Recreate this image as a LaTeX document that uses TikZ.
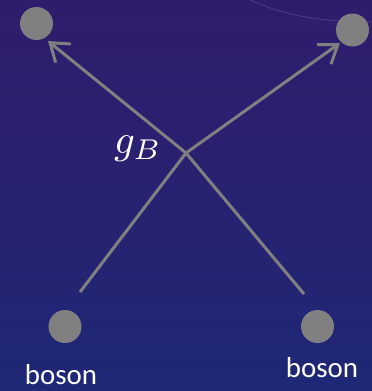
\documentclass[tikz,border=0pt]{standalone}
\usepackage{fontspec}
\setsansfont{Carlito}
\usetikzlibrary{arrows.meta}
\definecolor{bgtop}{RGB}{48,28,108}
\definecolor{bgbot}{RGB}{30,40,118}
\definecolor{pgray}{RGB}{128,128,128}
\tikzset{
  particle/.style={circle, fill=pgray, minimum size=33bp, inner sep=0pt},
  leg/.style={draw=pgray, line width=3bp},
  arr/.style={-{Straight Barb[length=17bp,width=24bp,line width=3bp]}},
  lbl/.style={text=white, font=\sffamily\fontsize{29}{32}\selectfont, anchor=base, inner sep=0pt}
}
\begin{document}
\begin{tikzpicture}[x=1bp,y=-1bp]
\useasboundingbox (0,0) rectangle (372,391);
\shade[top color=bgtop, bottom color=bgbot] (0,0) rectangle (372,391);
\draw[white!30!bgtop, opacity=0.5, line width=0.8bp] (250,0) .. controls (290,18) and (330,22) .. (372,22);
\node[particle] (tl) at (36.5,23.5) {};
\node[particle] (tr) at (352.5,30) {};
\node[particle] (bl) at (65,326.5) {};
\node[particle] (br) at (317.5,326.5) {};
\coordinate (v) at (186,153);
\coordinate (blend) at (80,292);
\coordinate (brend) at (304,294);
\coordinate (tlend) at (48,41);
\coordinate (trend) at (340,43);
\draw[leg] (blend) -- (v);
\draw[leg] (brend) -- (v);
\draw[leg, arr] (v) -- (tlend);
\draw[leg, arr] (v) -- (trend);
\node[text=white, anchor=base west, inner sep=0pt] (g) at (114,153) {\scalebox{4.1}{$\boldmath g_B$}};
\node[lbl] (lb) at (61,384) {boson};
\node[lbl] (rb) at (322,377) {boson};
\end{tikzpicture}
\end{document}
